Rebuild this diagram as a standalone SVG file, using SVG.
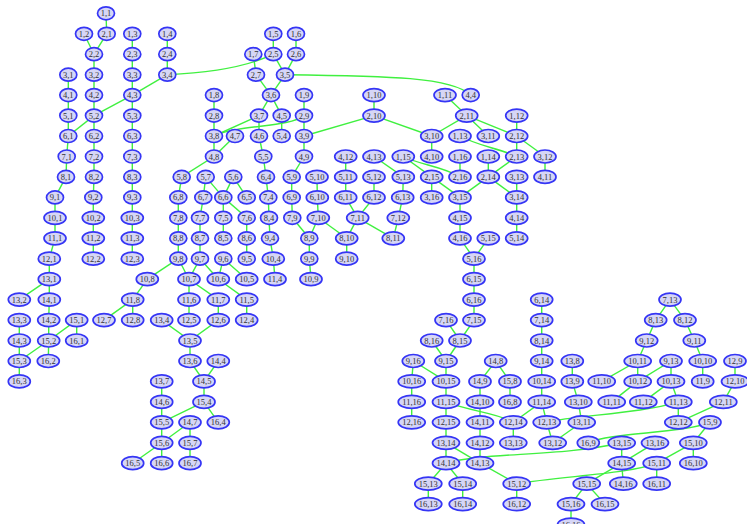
<svg xmlns="http://www.w3.org/2000/svg" width="747" height="524" viewBox="0 0 747 524">
<style>
.e line,.e path{stroke:#40f040;stroke-width:1.4;fill:none}
.n ellipse{fill:#d6d6f6;stroke:#3535f5;stroke-width:1.7}
.n text{font-family:"Liberation Serif",serif;font-size:8.5px;fill:#333;text-anchor:middle;dominant-baseline:central}
</style>
<rect width="747" height="524" fill="#fff"/>
<g id="edges" class="e">
<line x1="106" y1="13.3" x2="106.7" y2="33.8"/>
<line x1="84" y1="33.8" x2="94" y2="54.2"/>
<line x1="106.7" y1="33.8" x2="94" y2="54.2"/>
<line x1="94" y1="54.2" x2="94" y2="74.7"/>
<line x1="94" y1="74.7" x2="94" y2="95.1"/>
<line x1="94" y1="95.1" x2="94" y2="115.6"/>
<line x1="94" y1="115.6" x2="94" y2="136"/>
<line x1="94" y1="136" x2="94" y2="156.5"/>
<line x1="94" y1="156.5" x2="94" y2="176.9"/>
<line x1="94" y1="176.9" x2="93.3" y2="197.4"/>
<line x1="93.3" y1="197.4" x2="93.3" y2="217.8"/>
<line x1="93.3" y1="217.8" x2="93.3" y2="238.3"/>
<line x1="93.3" y1="238.3" x2="93.3" y2="258.7"/>
<line x1="132.3" y1="33.8" x2="132.3" y2="54.2"/>
<line x1="132.3" y1="54.2" x2="132.3" y2="74.7"/>
<line x1="132.3" y1="74.7" x2="132.3" y2="95.1"/>
<line x1="132.3" y1="95.1" x2="132.3" y2="115.6"/>
<line x1="132.3" y1="115.6" x2="132.3" y2="136"/>
<line x1="132.3" y1="136" x2="132.3" y2="156.5"/>
<line x1="132.3" y1="156.5" x2="132.3" y2="176.9"/>
<line x1="132.3" y1="176.9" x2="132.3" y2="197.4"/>
<line x1="132.3" y1="197.4" x2="132.3" y2="217.8"/>
<line x1="132.3" y1="217.8" x2="132.3" y2="238.3"/>
<line x1="132.3" y1="238.3" x2="132.3" y2="258.7"/>
<line x1="167.3" y1="33.8" x2="167.3" y2="54.2"/>
<line x1="167.3" y1="54.2" x2="167.3" y2="74.7"/>
<line x1="167.3" y1="74.7" x2="132.3" y2="95.1"/>
<line x1="132.3" y1="95.1" x2="94" y2="115.6"/>
<line x1="94" y1="115.6" x2="68.3" y2="136"/>
<line x1="68.3" y1="74.7" x2="68.3" y2="95.1"/>
<line x1="68.3" y1="95.1" x2="68.3" y2="115.6"/>
<line x1="68.3" y1="115.6" x2="68.3" y2="136"/>
<line x1="68.3" y1="136" x2="66.7" y2="156.5"/>
<line x1="66.7" y1="156.5" x2="66" y2="176.9"/>
<line x1="66" y1="176.9" x2="55" y2="197.4"/>
<line x1="55" y1="197.4" x2="55" y2="217.8"/>
<line x1="55" y1="217.8" x2="55" y2="238.3"/>
<line x1="55" y1="238.3" x2="49.3" y2="258.7"/>
<line x1="49.3" y1="258.7" x2="49.3" y2="279.2"/>
<line x1="49.3" y1="279.2" x2="49.3" y2="299.6"/>
<line x1="49.3" y1="279.2" x2="19.3" y2="299.6"/>
<line x1="49.3" y1="299.6" x2="48.7" y2="320.1"/>
<line x1="48.7" y1="320.1" x2="48.7" y2="340.5"/>
<line x1="76.7" y1="320.1" x2="48.7" y2="340.5"/>
<line x1="48.7" y1="340.5" x2="48.3" y2="361"/>
<line x1="76.7" y1="320.1" x2="76.7" y2="340.5"/>
<line x1="19.3" y1="320.1" x2="19.3" y2="340.5"/>
<line x1="19.3" y1="340.5" x2="19.3" y2="361"/>
<line x1="48.7" y1="340.5" x2="19.3" y2="361"/>
<line x1="19.3" y1="361" x2="19.3" y2="381.4"/>
<path d="M167.3,74.7 C205,73 245,68 273.3,54.2"/>
<line x1="273.3" y1="33.8" x2="273.3" y2="54.2"/>
<line x1="296" y1="33.8" x2="296" y2="54.2"/>
<line x1="273.3" y1="54.2" x2="285" y2="74.7"/>
<line x1="296" y1="54.2" x2="285" y2="74.7"/>
<line x1="253.3" y1="54.2" x2="256" y2="74.7"/>
<line x1="256" y1="74.7" x2="271" y2="95.1"/>
<line x1="285" y1="74.7" x2="271" y2="95.1"/>
<path d="M285,74.7 C390,76 452,77 470.7,95.1"/>
<line x1="271" y1="95.1" x2="259" y2="115.6"/>
<line x1="271" y1="95.1" x2="281.7" y2="115.6"/>
<line x1="281.7" y1="115.6" x2="281.7" y2="136"/>
<line x1="259" y1="115.6" x2="259" y2="136"/>
<line x1="259" y1="136" x2="263.3" y2="156.5"/>
<line x1="263.3" y1="156.5" x2="266" y2="176.9"/>
<line x1="266" y1="176.9" x2="268.3" y2="197.4"/>
<line x1="268.3" y1="197.4" x2="269" y2="217.8"/>
<line x1="269" y1="217.8" x2="270" y2="238.3"/>
<line x1="270" y1="238.3" x2="273.3" y2="258.7"/>
<line x1="273.3" y1="258.7" x2="275" y2="279.2"/>
<line x1="259" y1="115.6" x2="214" y2="136"/>
<path d="M304,115.6 C288,128 240,124 214,136"/>
<line x1="214" y1="95.1" x2="214" y2="115.6"/>
<line x1="214" y1="115.6" x2="214" y2="136"/>
<line x1="214" y1="136" x2="214" y2="156.5"/>
<line x1="235" y1="136" x2="214" y2="156.5"/>
<line x1="214" y1="156.5" x2="181.7" y2="176.9"/>
<line x1="181.7" y1="176.9" x2="178.3" y2="197.4"/>
<line x1="178.3" y1="197.4" x2="178.3" y2="217.8"/>
<line x1="178.3" y1="217.8" x2="178.3" y2="238.3"/>
<line x1="178.3" y1="238.3" x2="178.3" y2="258.7"/>
<line x1="178.3" y1="258.7" x2="147.3" y2="279.2"/>
<line x1="178.3" y1="258.7" x2="189" y2="279.2"/>
<line x1="147.3" y1="279.2" x2="132.7" y2="299.6"/>
<line x1="132.7" y1="299.6" x2="104" y2="320.1"/>
<line x1="132.7" y1="299.6" x2="132.7" y2="320.1"/>
<line x1="304" y1="95.1" x2="304" y2="115.6"/>
<line x1="304" y1="115.6" x2="304" y2="136"/>
<line x1="304" y1="136" x2="304" y2="156.5"/>
<line x1="304" y1="156.5" x2="291.7" y2="176.9"/>
<line x1="291.7" y1="176.9" x2="291.7" y2="197.4"/>
<line x1="291.7" y1="197.4" x2="292.3" y2="217.8"/>
<line x1="292.3" y1="217.8" x2="309.3" y2="238.3"/>
<line x1="309.3" y1="238.3" x2="309.3" y2="258.7"/>
<line x1="309.3" y1="258.7" x2="311" y2="279.2"/>
<line x1="318.3" y1="217.8" x2="309.3" y2="238.3"/>
<line x1="317.3" y1="197.4" x2="318.3" y2="217.8"/>
<line x1="317" y1="176.9" x2="317.3" y2="197.4"/>
<line x1="318.3" y1="217.8" x2="346.7" y2="238.3"/>
<line x1="346.7" y1="238.3" x2="346.7" y2="258.7"/>
<line x1="357.7" y1="217.8" x2="346.7" y2="238.3"/>
<line x1="357.7" y1="217.8" x2="393.3" y2="238.3"/>
<line x1="345.7" y1="197.4" x2="357.7" y2="217.8"/>
<line x1="374" y1="197.4" x2="357.7" y2="217.8"/>
<line x1="345.7" y1="176.9" x2="345.7" y2="197.4"/>
<line x1="345.7" y1="156.5" x2="345.7" y2="176.9"/>
<line x1="374" y1="176.9" x2="374" y2="197.4"/>
<line x1="374" y1="95.1" x2="374" y2="115.6"/>
<line x1="374" y1="115.6" x2="304" y2="136"/>
<line x1="374" y1="115.6" x2="431.7" y2="136"/>
<line x1="431.7" y1="136" x2="431.7" y2="156.5"/>
<line x1="445" y1="95.1" x2="466.7" y2="115.6"/>
<line x1="466.7" y1="115.6" x2="431.7" y2="136"/>
<line x1="466.7" y1="115.6" x2="488.3" y2="136"/>
<line x1="466.7" y1="115.6" x2="516.7" y2="136"/>
<line x1="516.7" y1="115.6" x2="516.7" y2="136"/>
<line x1="516.7" y1="136" x2="516.7" y2="156.5"/>
<line x1="516.7" y1="136" x2="545" y2="156.5"/>
<line x1="545" y1="156.5" x2="545" y2="176.9"/>
<path d="M460,136 C478,146 498,148 516.7,156.5"/>
<line x1="516.7" y1="156.5" x2="488.3" y2="176.9"/>
<line x1="488.3" y1="156.5" x2="488.3" y2="176.9"/>
<line x1="488.3" y1="176.9" x2="460" y2="197.4"/>
<line x1="488.3" y1="176.9" x2="516.7" y2="197.4"/>
<line x1="516.7" y1="176.9" x2="516.7" y2="197.4"/>
<line x1="516.7" y1="197.4" x2="516.7" y2="217.8"/>
<line x1="516.7" y1="217.8" x2="516.7" y2="238.3"/>
<line x1="403.3" y1="156.5" x2="431.7" y2="176.9"/>
<path d="M403.3,156.5 C420,165 442,166 460,176.9"/>
<line x1="460" y1="156.5" x2="460" y2="176.9"/>
<line x1="431.7" y1="176.9" x2="460" y2="197.4"/>
<line x1="431.7" y1="176.9" x2="431.7" y2="197.4"/>
<line x1="460" y1="197.4" x2="460" y2="217.8"/>
<line x1="460" y1="217.8" x2="460" y2="238.3"/>
<line x1="460" y1="238.3" x2="474" y2="258.7"/>
<line x1="488.3" y1="238.3" x2="474" y2="258.7"/>
<line x1="474" y1="258.7" x2="474" y2="279.2"/>
<line x1="474" y1="279.2" x2="474" y2="299.6"/>
<line x1="474" y1="299.6" x2="474" y2="320.1"/>
<line x1="474" y1="320.1" x2="460" y2="340.5"/>
<line x1="446" y1="320.1" x2="460" y2="340.5"/>
<line x1="460" y1="340.5" x2="446" y2="361"/>
<line x1="431.7" y1="340.5" x2="446" y2="361"/>
<line x1="374" y1="156.5" x2="403.3" y2="176.9"/>
<line x1="403.3" y1="176.9" x2="402.7" y2="197.4"/>
<line x1="402.7" y1="197.4" x2="398.3" y2="217.8"/>
<line x1="398.3" y1="217.8" x2="393.3" y2="238.3"/>
<line x1="205.7" y1="176.9" x2="203.3" y2="197.4"/>
<line x1="205.7" y1="176.9" x2="223.3" y2="197.4"/>
<line x1="233.3" y1="176.9" x2="223.3" y2="197.4"/>
<line x1="233.3" y1="176.9" x2="246.7" y2="197.4"/>
<line x1="223.3" y1="197.4" x2="223.3" y2="217.8"/>
<line x1="223.3" y1="197.4" x2="246.7" y2="217.8"/>
<line x1="203.3" y1="197.4" x2="200" y2="217.8"/>
<line x1="200" y1="217.8" x2="200" y2="238.3"/>
<line x1="200" y1="238.3" x2="200" y2="258.7"/>
<line x1="223.3" y1="217.8" x2="223.3" y2="238.3"/>
<line x1="246.7" y1="217.8" x2="246.7" y2="238.3"/>
<line x1="246.7" y1="238.3" x2="246.7" y2="258.7"/>
<line x1="200" y1="258.7" x2="189" y2="279.2"/>
<line x1="200" y1="258.7" x2="218.3" y2="279.2"/>
<line x1="223.3" y1="258.7" x2="218.3" y2="279.2"/>
<line x1="223.3" y1="258.7" x2="246.7" y2="279.2"/>
<line x1="189" y1="279.2" x2="189" y2="299.6"/>
<line x1="189" y1="279.2" x2="218.3" y2="299.6"/>
<line x1="218.3" y1="279.2" x2="246.7" y2="299.6"/>
<line x1="189" y1="299.6" x2="189" y2="320.1"/>
<line x1="218.3" y1="299.6" x2="218.3" y2="320.1"/>
<line x1="246.7" y1="299.6" x2="246.7" y2="320.1"/>
<line x1="218.3" y1="320.1" x2="190" y2="340.5"/>
<line x1="161.7" y1="320.1" x2="190" y2="340.5"/>
<line x1="190" y1="340.5" x2="190" y2="361"/>
<line x1="190" y1="361" x2="204" y2="381.4"/>
<line x1="218.3" y1="361" x2="204" y2="381.4"/>
<line x1="204" y1="381.4" x2="204" y2="401.9"/>
<line x1="204" y1="401.9" x2="218.3" y2="422.3"/>
<line x1="204" y1="401.9" x2="161.7" y2="422.3"/>
<line x1="161.7" y1="381.4" x2="161.7" y2="401.9"/>
<line x1="161.7" y1="401.9" x2="161.7" y2="422.3"/>
<line x1="161.7" y1="422.3" x2="161.7" y2="442.8"/>
<line x1="190" y1="422.3" x2="161.7" y2="442.8"/>
<line x1="161.7" y1="442.8" x2="132.7" y2="463.2"/>
<line x1="161.7" y1="442.8" x2="161.7" y2="463.2"/>
<line x1="190" y1="422.3" x2="190" y2="442.8"/>
<line x1="190" y1="442.8" x2="190" y2="463.2"/>
<line x1="446" y1="361" x2="446" y2="381.4"/>
<line x1="446" y1="381.4" x2="446" y2="401.9"/>
<line x1="446" y1="401.9" x2="446" y2="422.3"/>
<line x1="446" y1="422.3" x2="446" y2="442.8"/>
<line x1="446" y1="442.8" x2="446" y2="463.2"/>
<line x1="413.3" y1="361" x2="411.7" y2="381.4"/>
<line x1="411.7" y1="381.4" x2="411.7" y2="401.9"/>
<line x1="411.7" y1="401.9" x2="411.7" y2="422.3"/>
<line x1="413.3" y1="361" x2="446" y2="381.4"/>
<line x1="495.7" y1="361" x2="480" y2="381.4"/>
<line x1="495.7" y1="361" x2="510" y2="381.4"/>
<line x1="510" y1="381.4" x2="510" y2="401.9"/>
<line x1="480" y1="381.4" x2="480" y2="401.9"/>
<line x1="480" y1="401.9" x2="480" y2="422.3"/>
<line x1="480" y1="422.3" x2="480" y2="442.8"/>
<line x1="480" y1="442.8" x2="480" y2="463.2"/>
<line x1="446" y1="442.8" x2="480" y2="463.2"/>
<line x1="480" y1="463.2" x2="516.7" y2="483.7"/>
<line x1="516.7" y1="483.7" x2="516.7" y2="504.1"/>
<line x1="446" y1="463.2" x2="428.3" y2="483.7"/>
<line x1="446" y1="463.2" x2="462.7" y2="483.7"/>
<line x1="428.3" y1="483.7" x2="428.3" y2="504.1"/>
<line x1="462.7" y1="483.7" x2="462.7" y2="504.1"/>
<line x1="541.7" y1="299.6" x2="541.7" y2="320.1"/>
<line x1="541.7" y1="320.1" x2="541.7" y2="340.5"/>
<line x1="541.7" y1="340.5" x2="541.7" y2="361"/>
<line x1="541.7" y1="361" x2="541.7" y2="381.4"/>
<line x1="541.7" y1="381.4" x2="541.7" y2="401.9"/>
<line x1="541.7" y1="401.9" x2="513.3" y2="422.3"/>
<line x1="541.7" y1="401.9" x2="546.7" y2="422.3"/>
<path d="M446,401.9 C472,412 495,412 513.3,422.3"/>
<line x1="513.3" y1="422.3" x2="513.3" y2="442.8"/>
<line x1="546.7" y1="422.3" x2="552.7" y2="442.8"/>
<line x1="581.7" y1="422.3" x2="552.7" y2="442.8"/>
<line x1="572.3" y1="361" x2="572.3" y2="381.4"/>
<line x1="572.3" y1="381.4" x2="578.3" y2="401.9"/>
<line x1="578.3" y1="401.9" x2="581.7" y2="422.3"/>
<path d="M546.7,422.3 C575,415 640,414 678.3,401.9"/>
<line x1="670" y1="299.6" x2="655.7" y2="320.1"/>
<line x1="670" y1="299.6" x2="685" y2="320.1"/>
<line x1="655.7" y1="320.1" x2="646.7" y2="340.5"/>
<line x1="685" y1="320.1" x2="694.3" y2="340.5"/>
<line x1="646.7" y1="340.5" x2="637.7" y2="361"/>
<line x1="694.3" y1="340.5" x2="702.7" y2="361"/>
<line x1="637.7" y1="361" x2="601.7" y2="381.4"/>
<line x1="637.7" y1="361" x2="637.7" y2="381.4"/>
<line x1="671" y1="361" x2="637.7" y2="381.4"/>
<line x1="671" y1="361" x2="671" y2="381.4"/>
<line x1="702.7" y1="361" x2="702.7" y2="381.4"/>
<line x1="735" y1="361" x2="735" y2="381.4"/>
<line x1="637.7" y1="381.4" x2="611.7" y2="401.9"/>
<line x1="671" y1="381.4" x2="643.3" y2="401.9"/>
<line x1="671" y1="381.4" x2="678.3" y2="401.9"/>
<line x1="678.3" y1="401.9" x2="678.3" y2="422.3"/>
<line x1="735" y1="381.4" x2="723.3" y2="401.9"/>
<line x1="723.3" y1="401.9" x2="678.3" y2="422.3"/>
<path d="M710,422.3 C680,434 612,432 588.3,442.8"/>
<line x1="710" y1="422.3" x2="693.3" y2="442.8"/>
<line x1="621.7" y1="442.8" x2="621.7" y2="463.2"/>
<line x1="655" y1="442.8" x2="621.7" y2="463.2"/>
<line x1="693.3" y1="442.8" x2="656.7" y2="463.2"/>
<line x1="693.3" y1="442.8" x2="693.3" y2="463.2"/>
<line x1="656.7" y1="463.2" x2="656.7" y2="483.7"/>
<line x1="621.7" y1="463.2" x2="623.3" y2="483.7"/>
<line x1="621.7" y1="463.2" x2="586.7" y2="483.7"/>
<line x1="586.7" y1="483.7" x2="571" y2="504.1"/>
<line x1="586.7" y1="483.7" x2="605" y2="504.1"/>
<line x1="571" y1="504.1" x2="571" y2="524.6"/>
<path d="M446,463.2 C482,452 560,457 621.7,442.8"/>
<path d="M656.7,463.2 C630,474 562,476 516.7,483.7"/>
</g>
<g id="nodes">
<g id="n1_1" class="n"><ellipse cx="106" cy="13.3" rx="8.5" ry="6.5"/><text x="106" y="13.3">1,1</text></g>
<g id="n1_2" class="n"><ellipse cx="84" cy="33.8" rx="8.5" ry="6.5"/><text x="84" y="33.8">1,2</text></g>
<g id="n2_1" class="n"><ellipse cx="106.7" cy="33.8" rx="8.5" ry="6.5"/><text x="106.7" y="33.8">2,1</text></g>
<g id="n1_3" class="n"><ellipse cx="132.3" cy="33.8" rx="8.5" ry="6.5"/><text x="132.3" y="33.8">1,3</text></g>
<g id="n1_4" class="n"><ellipse cx="167.3" cy="33.8" rx="8.5" ry="6.5"/><text x="167.3" y="33.8">1,4</text></g>
<g id="n1_5" class="n"><ellipse cx="273.3" cy="33.8" rx="8.5" ry="6.5"/><text x="273.3" y="33.8">1,5</text></g>
<g id="n1_6" class="n"><ellipse cx="296" cy="33.8" rx="8.5" ry="6.5"/><text x="296" y="33.8">1,6</text></g>
<g id="n2_2" class="n"><ellipse cx="94" cy="54.2" rx="8.5" ry="6.5"/><text x="94" y="54.2">2,2</text></g>
<g id="n2_3" class="n"><ellipse cx="132.3" cy="54.2" rx="8.5" ry="6.5"/><text x="132.3" y="54.2">2,3</text></g>
<g id="n2_4" class="n"><ellipse cx="167.3" cy="54.2" rx="8.5" ry="6.5"/><text x="167.3" y="54.2">2,4</text></g>
<g id="n1_7" class="n"><ellipse cx="253.3" cy="54.2" rx="8.5" ry="6.5"/><text x="253.3" y="54.2">1,7</text></g>
<g id="n2_5" class="n"><ellipse cx="273.3" cy="54.2" rx="8.5" ry="6.5"/><text x="273.3" y="54.2">2,5</text></g>
<g id="n2_6" class="n"><ellipse cx="296" cy="54.2" rx="8.5" ry="6.5"/><text x="296" y="54.2">2,6</text></g>
<g id="n3_1" class="n"><ellipse cx="68.3" cy="74.7" rx="8.5" ry="6.5"/><text x="68.3" y="74.7">3,1</text></g>
<g id="n3_2" class="n"><ellipse cx="94" cy="74.7" rx="8.5" ry="6.5"/><text x="94" y="74.7">3,2</text></g>
<g id="n3_3" class="n"><ellipse cx="132.3" cy="74.7" rx="8.5" ry="6.5"/><text x="132.3" y="74.7">3,3</text></g>
<g id="n3_4" class="n"><ellipse cx="167.3" cy="74.7" rx="8.5" ry="6.5"/><text x="167.3" y="74.7">3,4</text></g>
<g id="n2_7" class="n"><ellipse cx="256" cy="74.7" rx="8.5" ry="6.5"/><text x="256" y="74.7">2,7</text></g>
<g id="n3_5" class="n"><ellipse cx="285" cy="74.7" rx="8.5" ry="6.5"/><text x="285" y="74.7">3,5</text></g>
<g id="n4_1" class="n"><ellipse cx="68.3" cy="95.1" rx="8.5" ry="6.5"/><text x="68.3" y="95.1">4,1</text></g>
<g id="n4_2" class="n"><ellipse cx="94" cy="95.1" rx="8.5" ry="6.5"/><text x="94" y="95.1">4,2</text></g>
<g id="n4_3" class="n"><ellipse cx="132.3" cy="95.1" rx="8.5" ry="6.5"/><text x="132.3" y="95.1">4,3</text></g>
<g id="n1_8" class="n"><ellipse cx="214" cy="95.1" rx="8.5" ry="6.5"/><text x="214" y="95.1">1,8</text></g>
<g id="n3_6" class="n"><ellipse cx="271" cy="95.1" rx="8.5" ry="6.5"/><text x="271" y="95.1">3,6</text></g>
<g id="n1_9" class="n"><ellipse cx="304" cy="95.1" rx="8.5" ry="6.5"/><text x="304" y="95.1">1,9</text></g>
<g id="n1_10" class="n"><ellipse cx="374" cy="95.1" rx="11" ry="6.5"/><text x="374" y="95.1">1,10</text></g>
<g id="n1_11" class="n"><ellipse cx="445" cy="95.1" rx="11" ry="6.5"/><text x="445" y="95.1">1,11</text></g>
<g id="n4_4" class="n"><ellipse cx="470.7" cy="95.1" rx="8.5" ry="6.5"/><text x="470.7" y="95.1">4,4</text></g>
<g id="n5_1" class="n"><ellipse cx="68.3" cy="115.6" rx="8.5" ry="6.5"/><text x="68.3" y="115.6">5,1</text></g>
<g id="n5_2" class="n"><ellipse cx="94" cy="115.6" rx="8.5" ry="6.5"/><text x="94" y="115.6">5,2</text></g>
<g id="n5_3" class="n"><ellipse cx="132.3" cy="115.6" rx="8.5" ry="6.5"/><text x="132.3" y="115.6">5,3</text></g>
<g id="n2_8" class="n"><ellipse cx="214" cy="115.6" rx="8.5" ry="6.5"/><text x="214" y="115.6">2,8</text></g>
<g id="n3_7" class="n"><ellipse cx="259" cy="115.6" rx="8.5" ry="6.5"/><text x="259" y="115.6">3,7</text></g>
<g id="n4_5" class="n"><ellipse cx="281.7" cy="115.6" rx="8.5" ry="6.5"/><text x="281.7" y="115.6">4,5</text></g>
<g id="n2_9" class="n"><ellipse cx="304" cy="115.6" rx="8.5" ry="6.5"/><text x="304" y="115.6">2,9</text></g>
<g id="n2_10" class="n"><ellipse cx="374" cy="115.6" rx="11" ry="6.5"/><text x="374" y="115.6">2,10</text></g>
<g id="n2_11" class="n"><ellipse cx="466.7" cy="115.6" rx="11" ry="6.5"/><text x="466.7" y="115.6">2,11</text></g>
<g id="n1_12" class="n"><ellipse cx="516.7" cy="115.6" rx="11" ry="6.5"/><text x="516.7" y="115.6">1,12</text></g>
<g id="n6_1" class="n"><ellipse cx="68.3" cy="136" rx="8.5" ry="6.5"/><text x="68.3" y="136">6,1</text></g>
<g id="n6_2" class="n"><ellipse cx="94" cy="136" rx="8.5" ry="6.5"/><text x="94" y="136">6,2</text></g>
<g id="n6_3" class="n"><ellipse cx="132.3" cy="136" rx="8.5" ry="6.5"/><text x="132.3" y="136">6,3</text></g>
<g id="n3_8" class="n"><ellipse cx="214" cy="136" rx="8.5" ry="6.5"/><text x="214" y="136">3,8</text></g>
<g id="n4_7" class="n"><ellipse cx="235" cy="136" rx="8.5" ry="6.5"/><text x="235" y="136">4,7</text></g>
<g id="n4_6" class="n"><ellipse cx="259" cy="136" rx="8.5" ry="6.5"/><text x="259" y="136">4,6</text></g>
<g id="n5_4" class="n"><ellipse cx="281.7" cy="136" rx="8.5" ry="6.5"/><text x="281.7" y="136">5,4</text></g>
<g id="n3_9" class="n"><ellipse cx="304" cy="136" rx="8.5" ry="6.5"/><text x="304" y="136">3,9</text></g>
<g id="n3_10" class="n"><ellipse cx="431.7" cy="136" rx="11" ry="6.5"/><text x="431.7" y="136">3,10</text></g>
<g id="n1_13" class="n"><ellipse cx="460" cy="136" rx="11" ry="6.5"/><text x="460" y="136">1,13</text></g>
<g id="n3_11" class="n"><ellipse cx="488.3" cy="136" rx="11" ry="6.5"/><text x="488.3" y="136">3,11</text></g>
<g id="n2_12" class="n"><ellipse cx="516.7" cy="136" rx="11" ry="6.5"/><text x="516.7" y="136">2,12</text></g>
<g id="n7_1" class="n"><ellipse cx="66.7" cy="156.5" rx="8.5" ry="6.5"/><text x="66.7" y="156.5">7,1</text></g>
<g id="n7_2" class="n"><ellipse cx="94" cy="156.5" rx="8.5" ry="6.5"/><text x="94" y="156.5">7,2</text></g>
<g id="n7_3" class="n"><ellipse cx="132.3" cy="156.5" rx="8.5" ry="6.5"/><text x="132.3" y="156.5">7,3</text></g>
<g id="n4_8" class="n"><ellipse cx="214" cy="156.5" rx="8.5" ry="6.5"/><text x="214" y="156.5">4,8</text></g>
<g id="n5_5" class="n"><ellipse cx="263.3" cy="156.5" rx="8.5" ry="6.5"/><text x="263.3" y="156.5">5,5</text></g>
<g id="n4_9" class="n"><ellipse cx="304" cy="156.5" rx="8.5" ry="6.5"/><text x="304" y="156.5">4,9</text></g>
<g id="n4_12" class="n"><ellipse cx="345.7" cy="156.5" rx="11" ry="6.5"/><text x="345.7" y="156.5">4,12</text></g>
<g id="n4_13" class="n"><ellipse cx="374" cy="156.5" rx="11" ry="6.5"/><text x="374" y="156.5">4,13</text></g>
<g id="n1_15" class="n"><ellipse cx="403.3" cy="156.5" rx="11" ry="6.5"/><text x="403.3" y="156.5">1,15</text></g>
<g id="n4_10" class="n"><ellipse cx="431.7" cy="156.5" rx="11" ry="6.5"/><text x="431.7" y="156.5">4,10</text></g>
<g id="n1_16" class="n"><ellipse cx="460" cy="156.5" rx="11" ry="6.5"/><text x="460" y="156.5">1,16</text></g>
<g id="n1_14" class="n"><ellipse cx="488.3" cy="156.5" rx="11" ry="6.5"/><text x="488.3" y="156.5">1,14</text></g>
<g id="n2_13" class="n"><ellipse cx="516.7" cy="156.5" rx="11" ry="6.5"/><text x="516.7" y="156.5">2,13</text></g>
<g id="n3_12" class="n"><ellipse cx="545" cy="156.5" rx="11" ry="6.5"/><text x="545" y="156.5">3,12</text></g>
<g id="n8_1" class="n"><ellipse cx="66" cy="176.9" rx="8.5" ry="6.5"/><text x="66" y="176.9">8,1</text></g>
<g id="n8_2" class="n"><ellipse cx="94" cy="176.9" rx="8.5" ry="6.5"/><text x="94" y="176.9">8,2</text></g>
<g id="n8_3" class="n"><ellipse cx="132.3" cy="176.9" rx="8.5" ry="6.5"/><text x="132.3" y="176.9">8,3</text></g>
<g id="n5_8" class="n"><ellipse cx="181.7" cy="176.9" rx="8.5" ry="6.5"/><text x="181.7" y="176.9">5,8</text></g>
<g id="n5_7" class="n"><ellipse cx="205.7" cy="176.9" rx="8.5" ry="6.5"/><text x="205.7" y="176.9">5,7</text></g>
<g id="n5_6" class="n"><ellipse cx="233.3" cy="176.9" rx="8.5" ry="6.5"/><text x="233.3" y="176.9">5,6</text></g>
<g id="n6_4" class="n"><ellipse cx="266" cy="176.9" rx="8.5" ry="6.5"/><text x="266" y="176.9">6,4</text></g>
<g id="n5_9" class="n"><ellipse cx="291.7" cy="176.9" rx="8.5" ry="6.5"/><text x="291.7" y="176.9">5,9</text></g>
<g id="n5_10" class="n"><ellipse cx="317" cy="176.9" rx="11" ry="6.5"/><text x="317" y="176.9">5,10</text></g>
<g id="n5_11" class="n"><ellipse cx="345.7" cy="176.9" rx="11" ry="6.5"/><text x="345.7" y="176.9">5,11</text></g>
<g id="n5_12" class="n"><ellipse cx="374" cy="176.9" rx="11" ry="6.5"/><text x="374" y="176.9">5,12</text></g>
<g id="n5_13" class="n"><ellipse cx="403.3" cy="176.9" rx="11" ry="6.5"/><text x="403.3" y="176.9">5,13</text></g>
<g id="n2_15" class="n"><ellipse cx="431.7" cy="176.9" rx="11" ry="6.5"/><text x="431.7" y="176.9">2,15</text></g>
<g id="n2_16" class="n"><ellipse cx="460" cy="176.9" rx="11" ry="6.5"/><text x="460" y="176.9">2,16</text></g>
<g id="n2_14" class="n"><ellipse cx="488.3" cy="176.9" rx="11" ry="6.5"/><text x="488.3" y="176.9">2,14</text></g>
<g id="n3_13" class="n"><ellipse cx="516.7" cy="176.9" rx="11" ry="6.5"/><text x="516.7" y="176.9">3,13</text></g>
<g id="n4_11" class="n"><ellipse cx="545" cy="176.9" rx="11" ry="6.5"/><text x="545" y="176.9">4,11</text></g>
<g id="n9_1" class="n"><ellipse cx="55" cy="197.4" rx="8.5" ry="6.5"/><text x="55" y="197.4">9,1</text></g>
<g id="n9_2" class="n"><ellipse cx="93.3" cy="197.4" rx="8.5" ry="6.5"/><text x="93.3" y="197.4">9,2</text></g>
<g id="n9_3" class="n"><ellipse cx="132.3" cy="197.4" rx="8.5" ry="6.5"/><text x="132.3" y="197.4">9,3</text></g>
<g id="n6_8" class="n"><ellipse cx="178.3" cy="197.4" rx="8.5" ry="6.5"/><text x="178.3" y="197.4">6,8</text></g>
<g id="n6_7" class="n"><ellipse cx="203.3" cy="197.4" rx="8.5" ry="6.5"/><text x="203.3" y="197.4">6,7</text></g>
<g id="n6_6" class="n"><ellipse cx="223.3" cy="197.4" rx="8.5" ry="6.5"/><text x="223.3" y="197.4">6,6</text></g>
<g id="n6_5" class="n"><ellipse cx="246.7" cy="197.4" rx="8.5" ry="6.5"/><text x="246.7" y="197.4">6,5</text></g>
<g id="n7_4" class="n"><ellipse cx="268.3" cy="197.4" rx="8.5" ry="6.5"/><text x="268.3" y="197.4">7,4</text></g>
<g id="n6_9" class="n"><ellipse cx="291.7" cy="197.4" rx="8.5" ry="6.5"/><text x="291.7" y="197.4">6,9</text></g>
<g id="n6_10" class="n"><ellipse cx="317.3" cy="197.4" rx="11" ry="6.5"/><text x="317.3" y="197.4">6,10</text></g>
<g id="n6_11" class="n"><ellipse cx="345.7" cy="197.4" rx="11" ry="6.5"/><text x="345.7" y="197.4">6,11</text></g>
<g id="n6_12" class="n"><ellipse cx="374" cy="197.4" rx="11" ry="6.5"/><text x="374" y="197.4">6,12</text></g>
<g id="n6_13" class="n"><ellipse cx="402.7" cy="197.4" rx="11" ry="6.5"/><text x="402.7" y="197.4">6,13</text></g>
<g id="n3_16" class="n"><ellipse cx="431.7" cy="197.4" rx="11" ry="6.5"/><text x="431.7" y="197.4">3,16</text></g>
<g id="n3_15" class="n"><ellipse cx="460" cy="197.4" rx="11" ry="6.5"/><text x="460" y="197.4">3,15</text></g>
<g id="n3_14" class="n"><ellipse cx="516.7" cy="197.4" rx="11" ry="6.5"/><text x="516.7" y="197.4">3,14</text></g>
<g id="n10_1" class="n"><ellipse cx="55" cy="217.8" rx="11" ry="6.5"/><text x="55" y="217.8">10,1</text></g>
<g id="n10_2" class="n"><ellipse cx="93.3" cy="217.8" rx="11" ry="6.5"/><text x="93.3" y="217.8">10,2</text></g>
<g id="n10_3" class="n"><ellipse cx="132.3" cy="217.8" rx="11" ry="6.5"/><text x="132.3" y="217.8">10,3</text></g>
<g id="n7_8" class="n"><ellipse cx="178.3" cy="217.8" rx="8.5" ry="6.5"/><text x="178.3" y="217.8">7,8</text></g>
<g id="n7_7" class="n"><ellipse cx="200" cy="217.8" rx="8.5" ry="6.5"/><text x="200" y="217.8">7,7</text></g>
<g id="n7_5" class="n"><ellipse cx="223.3" cy="217.8" rx="8.5" ry="6.5"/><text x="223.3" y="217.8">7,5</text></g>
<g id="n7_6" class="n"><ellipse cx="246.7" cy="217.8" rx="8.5" ry="6.5"/><text x="246.7" y="217.8">7,6</text></g>
<g id="n8_4" class="n"><ellipse cx="269" cy="217.8" rx="8.5" ry="6.5"/><text x="269" y="217.8">8,4</text></g>
<g id="n7_9" class="n"><ellipse cx="292.3" cy="217.8" rx="8.5" ry="6.5"/><text x="292.3" y="217.8">7,9</text></g>
<g id="n7_10" class="n"><ellipse cx="318.3" cy="217.8" rx="11" ry="6.5"/><text x="318.3" y="217.8">7,10</text></g>
<g id="n7_11" class="n"><ellipse cx="357.7" cy="217.8" rx="11" ry="6.5"/><text x="357.7" y="217.8">7,11</text></g>
<g id="n7_12" class="n"><ellipse cx="398.3" cy="217.8" rx="11" ry="6.5"/><text x="398.3" y="217.8">7,12</text></g>
<g id="n4_15" class="n"><ellipse cx="460" cy="217.8" rx="11" ry="6.5"/><text x="460" y="217.8">4,15</text></g>
<g id="n4_14" class="n"><ellipse cx="516.7" cy="217.8" rx="11" ry="6.5"/><text x="516.7" y="217.8">4,14</text></g>
<g id="n11_1" class="n"><ellipse cx="55" cy="238.3" rx="11" ry="6.5"/><text x="55" y="238.3">11,1</text></g>
<g id="n11_2" class="n"><ellipse cx="93.3" cy="238.3" rx="11" ry="6.5"/><text x="93.3" y="238.3">11,2</text></g>
<g id="n11_3" class="n"><ellipse cx="132.3" cy="238.3" rx="11" ry="6.5"/><text x="132.3" y="238.3">11,3</text></g>
<g id="n8_8" class="n"><ellipse cx="178.3" cy="238.3" rx="8.5" ry="6.5"/><text x="178.3" y="238.3">8,8</text></g>
<g id="n8_7" class="n"><ellipse cx="200" cy="238.3" rx="8.5" ry="6.5"/><text x="200" y="238.3">8,7</text></g>
<g id="n8_5" class="n"><ellipse cx="223.3" cy="238.3" rx="8.5" ry="6.5"/><text x="223.3" y="238.3">8,5</text></g>
<g id="n8_6" class="n"><ellipse cx="246.7" cy="238.3" rx="8.5" ry="6.5"/><text x="246.7" y="238.3">8,6</text></g>
<g id="n9_4" class="n"><ellipse cx="270" cy="238.3" rx="8.5" ry="6.5"/><text x="270" y="238.3">9,4</text></g>
<g id="n8_9" class="n"><ellipse cx="309.3" cy="238.3" rx="8.5" ry="6.5"/><text x="309.3" y="238.3">8,9</text></g>
<g id="n8_10" class="n"><ellipse cx="346.7" cy="238.3" rx="11" ry="6.5"/><text x="346.7" y="238.3">8,10</text></g>
<g id="n8_11" class="n"><ellipse cx="393.3" cy="238.3" rx="11" ry="6.5"/><text x="393.3" y="238.3">8,11</text></g>
<g id="n4_16" class="n"><ellipse cx="460" cy="238.3" rx="11" ry="6.5"/><text x="460" y="238.3">4,16</text></g>
<g id="n5_15" class="n"><ellipse cx="488.3" cy="238.3" rx="11" ry="6.5"/><text x="488.3" y="238.3">5,15</text></g>
<g id="n5_14" class="n"><ellipse cx="516.7" cy="238.3" rx="11" ry="6.5"/><text x="516.7" y="238.3">5,14</text></g>
<g id="n12_1" class="n"><ellipse cx="49.3" cy="258.7" rx="11" ry="6.5"/><text x="49.3" y="258.7">12,1</text></g>
<g id="n12_2" class="n"><ellipse cx="93.3" cy="258.7" rx="11" ry="6.5"/><text x="93.3" y="258.7">12,2</text></g>
<g id="n12_3" class="n"><ellipse cx="132.3" cy="258.7" rx="11" ry="6.5"/><text x="132.3" y="258.7">12,3</text></g>
<g id="n9_8" class="n"><ellipse cx="178.3" cy="258.7" rx="8.5" ry="6.5"/><text x="178.3" y="258.7">9,8</text></g>
<g id="n9_7" class="n"><ellipse cx="200" cy="258.7" rx="8.5" ry="6.5"/><text x="200" y="258.7">9,7</text></g>
<g id="n9_6" class="n"><ellipse cx="223.3" cy="258.7" rx="8.5" ry="6.5"/><text x="223.3" y="258.7">9,6</text></g>
<g id="n9_5" class="n"><ellipse cx="246.7" cy="258.7" rx="8.5" ry="6.5"/><text x="246.7" y="258.7">9,5</text></g>
<g id="n10_4" class="n"><ellipse cx="273.3" cy="258.7" rx="11" ry="6.5"/><text x="273.3" y="258.7">10,4</text></g>
<g id="n9_9" class="n"><ellipse cx="309.3" cy="258.7" rx="8.5" ry="6.5"/><text x="309.3" y="258.7">9,9</text></g>
<g id="n9_10" class="n"><ellipse cx="346.7" cy="258.7" rx="11" ry="6.5"/><text x="346.7" y="258.7">9,10</text></g>
<g id="n5_16" class="n"><ellipse cx="474" cy="258.7" rx="11" ry="6.5"/><text x="474" y="258.7">5,16</text></g>
<g id="n13_1" class="n"><ellipse cx="49.3" cy="279.2" rx="11" ry="6.5"/><text x="49.3" y="279.2">13,1</text></g>
<g id="n10_8" class="n"><ellipse cx="147.3" cy="279.2" rx="11" ry="6.5"/><text x="147.3" y="279.2">10,8</text></g>
<g id="n10_7" class="n"><ellipse cx="189" cy="279.2" rx="11" ry="6.5"/><text x="189" y="279.2">10,7</text></g>
<g id="n10_6" class="n"><ellipse cx="218.3" cy="279.2" rx="11" ry="6.5"/><text x="218.3" y="279.2">10,6</text></g>
<g id="n10_5" class="n"><ellipse cx="246.7" cy="279.2" rx="11" ry="6.5"/><text x="246.7" y="279.2">10,5</text></g>
<g id="n11_4" class="n"><ellipse cx="275" cy="279.2" rx="11" ry="6.5"/><text x="275" y="279.2">11,4</text></g>
<g id="n10_9" class="n"><ellipse cx="311" cy="279.2" rx="11" ry="6.5"/><text x="311" y="279.2">10,9</text></g>
<g id="n6_15" class="n"><ellipse cx="474" cy="279.2" rx="11" ry="6.5"/><text x="474" y="279.2">6,15</text></g>
<g id="n13_2" class="n"><ellipse cx="19.3" cy="299.6" rx="11" ry="6.5"/><text x="19.3" y="299.6">13,2</text></g>
<g id="n14_1" class="n"><ellipse cx="49.3" cy="299.6" rx="11" ry="6.5"/><text x="49.3" y="299.6">14,1</text></g>
<g id="n11_8" class="n"><ellipse cx="132.7" cy="299.6" rx="11" ry="6.5"/><text x="132.7" y="299.6">11,8</text></g>
<g id="n11_6" class="n"><ellipse cx="189" cy="299.6" rx="11" ry="6.5"/><text x="189" y="299.6">11,6</text></g>
<g id="n11_7" class="n"><ellipse cx="218.3" cy="299.6" rx="11" ry="6.5"/><text x="218.3" y="299.6">11,7</text></g>
<g id="n11_5" class="n"><ellipse cx="246.7" cy="299.6" rx="11" ry="6.5"/><text x="246.7" y="299.6">11,5</text></g>
<g id="n6_16" class="n"><ellipse cx="474" cy="299.6" rx="11" ry="6.5"/><text x="474" y="299.6">6,16</text></g>
<g id="n6_14" class="n"><ellipse cx="541.7" cy="299.6" rx="11" ry="6.5"/><text x="541.7" y="299.6">6,14</text></g>
<g id="n7_13" class="n"><ellipse cx="670" cy="299.6" rx="11" ry="6.5"/><text x="670" y="299.6">7,13</text></g>
<g id="n13_3" class="n"><ellipse cx="19.3" cy="320.1" rx="11" ry="6.5"/><text x="19.3" y="320.1">13,3</text></g>
<g id="n14_2" class="n"><ellipse cx="48.7" cy="320.1" rx="11" ry="6.5"/><text x="48.7" y="320.1">14,2</text></g>
<g id="n15_1" class="n"><ellipse cx="76.7" cy="320.1" rx="11" ry="6.5"/><text x="76.7" y="320.1">15,1</text></g>
<g id="n12_7" class="n"><ellipse cx="104" cy="320.1" rx="11" ry="6.5"/><text x="104" y="320.1">12,7</text></g>
<g id="n12_8" class="n"><ellipse cx="132.7" cy="320.1" rx="11" ry="6.5"/><text x="132.7" y="320.1">12,8</text></g>
<g id="n13_4" class="n"><ellipse cx="161.7" cy="320.1" rx="11" ry="6.5"/><text x="161.7" y="320.1">13,4</text></g>
<g id="n12_5" class="n"><ellipse cx="189" cy="320.1" rx="11" ry="6.5"/><text x="189" y="320.1">12,5</text></g>
<g id="n12_6" class="n"><ellipse cx="218.3" cy="320.1" rx="11" ry="6.5"/><text x="218.3" y="320.1">12,6</text></g>
<g id="n12_4" class="n"><ellipse cx="246.7" cy="320.1" rx="11" ry="6.5"/><text x="246.7" y="320.1">12,4</text></g>
<g id="n7_16" class="n"><ellipse cx="446" cy="320.1" rx="11" ry="6.5"/><text x="446" y="320.1">7,16</text></g>
<g id="n7_15" class="n"><ellipse cx="474" cy="320.1" rx="11" ry="6.5"/><text x="474" y="320.1">7,15</text></g>
<g id="n7_14" class="n"><ellipse cx="541.7" cy="320.1" rx="11" ry="6.5"/><text x="541.7" y="320.1">7,14</text></g>
<g id="n8_13" class="n"><ellipse cx="655.7" cy="320.1" rx="11" ry="6.5"/><text x="655.7" y="320.1">8,13</text></g>
<g id="n8_12" class="n"><ellipse cx="685" cy="320.1" rx="11" ry="6.5"/><text x="685" y="320.1">8,12</text></g>
<g id="n14_3" class="n"><ellipse cx="19.3" cy="340.5" rx="11" ry="6.5"/><text x="19.3" y="340.5">14,3</text></g>
<g id="n15_2" class="n"><ellipse cx="48.7" cy="340.5" rx="11" ry="6.5"/><text x="48.7" y="340.5">15,2</text></g>
<g id="n16_1" class="n"><ellipse cx="76.7" cy="340.5" rx="11" ry="6.5"/><text x="76.7" y="340.5">16,1</text></g>
<g id="n13_5" class="n"><ellipse cx="190" cy="340.5" rx="11" ry="6.5"/><text x="190" y="340.5">13,5</text></g>
<g id="n8_16" class="n"><ellipse cx="431.7" cy="340.5" rx="11" ry="6.5"/><text x="431.7" y="340.5">8,16</text></g>
<g id="n8_15" class="n"><ellipse cx="460" cy="340.5" rx="11" ry="6.5"/><text x="460" y="340.5">8,15</text></g>
<g id="n8_14" class="n"><ellipse cx="541.7" cy="340.5" rx="11" ry="6.5"/><text x="541.7" y="340.5">8,14</text></g>
<g id="n9_12" class="n"><ellipse cx="646.7" cy="340.5" rx="11" ry="6.5"/><text x="646.7" y="340.5">9,12</text></g>
<g id="n9_11" class="n"><ellipse cx="694.3" cy="340.5" rx="11" ry="6.5"/><text x="694.3" y="340.5">9,11</text></g>
<g id="n15_3" class="n"><ellipse cx="19.3" cy="361" rx="11" ry="6.5"/><text x="19.3" y="361">15,3</text></g>
<g id="n16_2" class="n"><ellipse cx="48.3" cy="361" rx="11" ry="6.5"/><text x="48.3" y="361">16,2</text></g>
<g id="n13_6" class="n"><ellipse cx="190" cy="361" rx="11" ry="6.5"/><text x="190" y="361">13,6</text></g>
<g id="n14_4" class="n"><ellipse cx="218.3" cy="361" rx="11" ry="6.5"/><text x="218.3" y="361">14,4</text></g>
<g id="n9_16" class="n"><ellipse cx="413.3" cy="361" rx="11" ry="6.5"/><text x="413.3" y="361">9,16</text></g>
<g id="n9_15" class="n"><ellipse cx="446" cy="361" rx="11" ry="6.5"/><text x="446" y="361">9,15</text></g>
<g id="n14_8" class="n"><ellipse cx="495.7" cy="361" rx="11" ry="6.5"/><text x="495.7" y="361">14,8</text></g>
<g id="n9_14" class="n"><ellipse cx="541.7" cy="361" rx="11" ry="6.5"/><text x="541.7" y="361">9,14</text></g>
<g id="n13_8" class="n"><ellipse cx="572.3" cy="361" rx="11" ry="6.5"/><text x="572.3" y="361">13,8</text></g>
<g id="n10_11" class="n"><ellipse cx="637.7" cy="361" rx="13.5" ry="6.5"/><text x="637.7" y="361">10,11</text></g>
<g id="n9_13" class="n"><ellipse cx="671" cy="361" rx="11" ry="6.5"/><text x="671" y="361">9,13</text></g>
<g id="n10_10" class="n"><ellipse cx="702.7" cy="361" rx="13.5" ry="6.5"/><text x="702.7" y="361">10,10</text></g>
<g id="n12_9" class="n"><ellipse cx="735" cy="361" rx="11" ry="6.5"/><text x="735" y="361">12,9</text></g>
<g id="n16_3" class="n"><ellipse cx="19.3" cy="381.4" rx="11" ry="6.5"/><text x="19.3" y="381.4">16,3</text></g>
<g id="n13_7" class="n"><ellipse cx="161.7" cy="381.4" rx="11" ry="6.5"/><text x="161.7" y="381.4">13,7</text></g>
<g id="n14_5" class="n"><ellipse cx="204" cy="381.4" rx="11" ry="6.5"/><text x="204" y="381.4">14,5</text></g>
<g id="n10_16" class="n"><ellipse cx="411.7" cy="381.4" rx="13.5" ry="6.5"/><text x="411.7" y="381.4">10,16</text></g>
<g id="n10_15" class="n"><ellipse cx="446" cy="381.4" rx="13.5" ry="6.5"/><text x="446" y="381.4">10,15</text></g>
<g id="n14_9" class="n"><ellipse cx="480" cy="381.4" rx="11" ry="6.5"/><text x="480" y="381.4">14,9</text></g>
<g id="n15_8" class="n"><ellipse cx="510" cy="381.4" rx="11" ry="6.5"/><text x="510" y="381.4">15,8</text></g>
<g id="n10_14" class="n"><ellipse cx="541.7" cy="381.4" rx="13.5" ry="6.5"/><text x="541.7" y="381.4">10,14</text></g>
<g id="n13_9" class="n"><ellipse cx="572.3" cy="381.4" rx="11" ry="6.5"/><text x="572.3" y="381.4">13,9</text></g>
<g id="n11_10" class="n"><ellipse cx="601.7" cy="381.4" rx="13.5" ry="6.5"/><text x="601.7" y="381.4">11,10</text></g>
<g id="n10_12" class="n"><ellipse cx="637.7" cy="381.4" rx="13.5" ry="6.5"/><text x="637.7" y="381.4">10,12</text></g>
<g id="n10_13" class="n"><ellipse cx="671" cy="381.4" rx="13.5" ry="6.5"/><text x="671" y="381.4">10,13</text></g>
<g id="n11_9" class="n"><ellipse cx="702.7" cy="381.4" rx="11" ry="6.5"/><text x="702.7" y="381.4">11,9</text></g>
<g id="n12_10" class="n"><ellipse cx="735" cy="381.4" rx="13.5" ry="6.5"/><text x="735" y="381.4">12,10</text></g>
<g id="n14_6" class="n"><ellipse cx="161.7" cy="401.9" rx="11" ry="6.5"/><text x="161.7" y="401.9">14,6</text></g>
<g id="n15_4" class="n"><ellipse cx="204" cy="401.9" rx="11" ry="6.5"/><text x="204" y="401.9">15,4</text></g>
<g id="n11_16" class="n"><ellipse cx="411.7" cy="401.9" rx="13.5" ry="6.5"/><text x="411.7" y="401.9">11,16</text></g>
<g id="n11_15" class="n"><ellipse cx="446" cy="401.9" rx="13.5" ry="6.5"/><text x="446" y="401.9">11,15</text></g>
<g id="n14_10" class="n"><ellipse cx="480" cy="401.9" rx="13.5" ry="6.5"/><text x="480" y="401.9">14,10</text></g>
<g id="n16_8" class="n"><ellipse cx="510" cy="401.9" rx="11" ry="6.5"/><text x="510" y="401.9">16,8</text></g>
<g id="n11_14" class="n"><ellipse cx="541.7" cy="401.9" rx="13.5" ry="6.5"/><text x="541.7" y="401.9">11,14</text></g>
<g id="n13_10" class="n"><ellipse cx="578.3" cy="401.9" rx="13.5" ry="6.5"/><text x="578.3" y="401.9">13,10</text></g>
<g id="n11_11" class="n"><ellipse cx="611.7" cy="401.9" rx="13.5" ry="6.5"/><text x="611.7" y="401.9">11,11</text></g>
<g id="n11_12" class="n"><ellipse cx="643.3" cy="401.9" rx="13.5" ry="6.5"/><text x="643.3" y="401.9">11,12</text></g>
<g id="n11_13" class="n"><ellipse cx="678.3" cy="401.9" rx="13.5" ry="6.5"/><text x="678.3" y="401.9">11,13</text></g>
<g id="n12_11" class="n"><ellipse cx="723.3" cy="401.9" rx="13.5" ry="6.5"/><text x="723.3" y="401.9">12,11</text></g>
<g id="n15_5" class="n"><ellipse cx="161.7" cy="422.3" rx="11" ry="6.5"/><text x="161.7" y="422.3">15,5</text></g>
<g id="n14_7" class="n"><ellipse cx="190" cy="422.3" rx="11" ry="6.5"/><text x="190" y="422.3">14,7</text></g>
<g id="n16_4" class="n"><ellipse cx="218.3" cy="422.3" rx="11" ry="6.5"/><text x="218.3" y="422.3">16,4</text></g>
<g id="n12_16" class="n"><ellipse cx="411.7" cy="422.3" rx="13.5" ry="6.5"/><text x="411.7" y="422.3">12,16</text></g>
<g id="n12_15" class="n"><ellipse cx="446" cy="422.3" rx="13.5" ry="6.5"/><text x="446" y="422.3">12,15</text></g>
<g id="n14_11" class="n"><ellipse cx="480" cy="422.3" rx="13.5" ry="6.5"/><text x="480" y="422.3">14,11</text></g>
<g id="n12_14" class="n"><ellipse cx="513.3" cy="422.3" rx="13.5" ry="6.5"/><text x="513.3" y="422.3">12,14</text></g>
<g id="n12_13" class="n"><ellipse cx="546.7" cy="422.3" rx="13.5" ry="6.5"/><text x="546.7" y="422.3">12,13</text></g>
<g id="n13_11" class="n"><ellipse cx="581.7" cy="422.3" rx="13.5" ry="6.5"/><text x="581.7" y="422.3">13,11</text></g>
<g id="n12_12" class="n"><ellipse cx="678.3" cy="422.3" rx="13.5" ry="6.5"/><text x="678.3" y="422.3">12,12</text></g>
<g id="n15_9" class="n"><ellipse cx="710" cy="422.3" rx="11" ry="6.5"/><text x="710" y="422.3">15,9</text></g>
<g id="n15_6" class="n"><ellipse cx="161.7" cy="442.8" rx="11" ry="6.5"/><text x="161.7" y="442.8">15,6</text></g>
<g id="n15_7" class="n"><ellipse cx="190" cy="442.8" rx="11" ry="6.5"/><text x="190" y="442.8">15,7</text></g>
<g id="n13_14" class="n"><ellipse cx="446" cy="442.8" rx="13.5" ry="6.5"/><text x="446" y="442.8">13,14</text></g>
<g id="n14_12" class="n"><ellipse cx="480" cy="442.8" rx="13.5" ry="6.5"/><text x="480" y="442.8">14,12</text></g>
<g id="n13_13" class="n"><ellipse cx="513.3" cy="442.8" rx="13.5" ry="6.5"/><text x="513.3" y="442.8">13,13</text></g>
<g id="n13_12" class="n"><ellipse cx="552.7" cy="442.8" rx="13.5" ry="6.5"/><text x="552.7" y="442.8">13,12</text></g>
<g id="n16_9" class="n"><ellipse cx="588.3" cy="442.8" rx="11" ry="6.5"/><text x="588.3" y="442.8">16,9</text></g>
<g id="n13_15" class="n"><ellipse cx="621.7" cy="442.8" rx="13.5" ry="6.5"/><text x="621.7" y="442.8">13,15</text></g>
<g id="n13_16" class="n"><ellipse cx="655" cy="442.8" rx="13.5" ry="6.5"/><text x="655" y="442.8">13,16</text></g>
<g id="n15_10" class="n"><ellipse cx="693.3" cy="442.8" rx="13.5" ry="6.5"/><text x="693.3" y="442.8">15,10</text></g>
<g id="n16_5" class="n"><ellipse cx="132.7" cy="463.2" rx="11" ry="6.5"/><text x="132.7" y="463.2">16,5</text></g>
<g id="n16_6" class="n"><ellipse cx="161.7" cy="463.2" rx="11" ry="6.5"/><text x="161.7" y="463.2">16,6</text></g>
<g id="n16_7" class="n"><ellipse cx="190" cy="463.2" rx="11" ry="6.5"/><text x="190" y="463.2">16,7</text></g>
<g id="n14_14" class="n"><ellipse cx="446" cy="463.2" rx="13.5" ry="6.5"/><text x="446" y="463.2">14,14</text></g>
<g id="n14_13" class="n"><ellipse cx="480" cy="463.2" rx="13.5" ry="6.5"/><text x="480" y="463.2">14,13</text></g>
<g id="n14_15" class="n"><ellipse cx="621.7" cy="463.2" rx="13.5" ry="6.5"/><text x="621.7" y="463.2">14,15</text></g>
<g id="n15_11" class="n"><ellipse cx="656.7" cy="463.2" rx="13.5" ry="6.5"/><text x="656.7" y="463.2">15,11</text></g>
<g id="n16_10" class="n"><ellipse cx="693.3" cy="463.2" rx="13.5" ry="6.5"/><text x="693.3" y="463.2">16,10</text></g>
<g id="n15_13" class="n"><ellipse cx="428.3" cy="483.7" rx="13.5" ry="6.5"/><text x="428.3" y="483.7">15,13</text></g>
<g id="n15_14" class="n"><ellipse cx="462.7" cy="483.7" rx="13.5" ry="6.5"/><text x="462.7" y="483.7">15,14</text></g>
<g id="n15_12" class="n"><ellipse cx="516.7" cy="483.7" rx="13.5" ry="6.5"/><text x="516.7" y="483.7">15,12</text></g>
<g id="n15_15" class="n"><ellipse cx="586.7" cy="483.7" rx="13.5" ry="6.5"/><text x="586.7" y="483.7">15,15</text></g>
<g id="n14_16" class="n"><ellipse cx="623.3" cy="483.7" rx="13.5" ry="6.5"/><text x="623.3" y="483.7">14,16</text></g>
<g id="n16_11" class="n"><ellipse cx="656.7" cy="483.7" rx="13.5" ry="6.5"/><text x="656.7" y="483.7">16,11</text></g>
<g id="n16_13" class="n"><ellipse cx="428.3" cy="504.1" rx="13.5" ry="6.5"/><text x="428.3" y="504.1">16,13</text></g>
<g id="n16_14" class="n"><ellipse cx="462.7" cy="504.1" rx="13.5" ry="6.5"/><text x="462.7" y="504.1">16,14</text></g>
<g id="n16_12" class="n"><ellipse cx="516.7" cy="504.1" rx="13.5" ry="6.5"/><text x="516.7" y="504.1">16,12</text></g>
<g id="n15_16" class="n"><ellipse cx="571" cy="504.1" rx="13.5" ry="6.5"/><text x="571" y="504.1">15,16</text></g>
<g id="n16_15" class="n"><ellipse cx="605" cy="504.1" rx="13.5" ry="6.5"/><text x="605" y="504.1">16,15</text></g>
<g id="n16_16" class="n"><ellipse cx="571" cy="524.6" rx="13.5" ry="6.5"/><text x="571" y="524.6">16,16</text></g>
</g>
</svg>
